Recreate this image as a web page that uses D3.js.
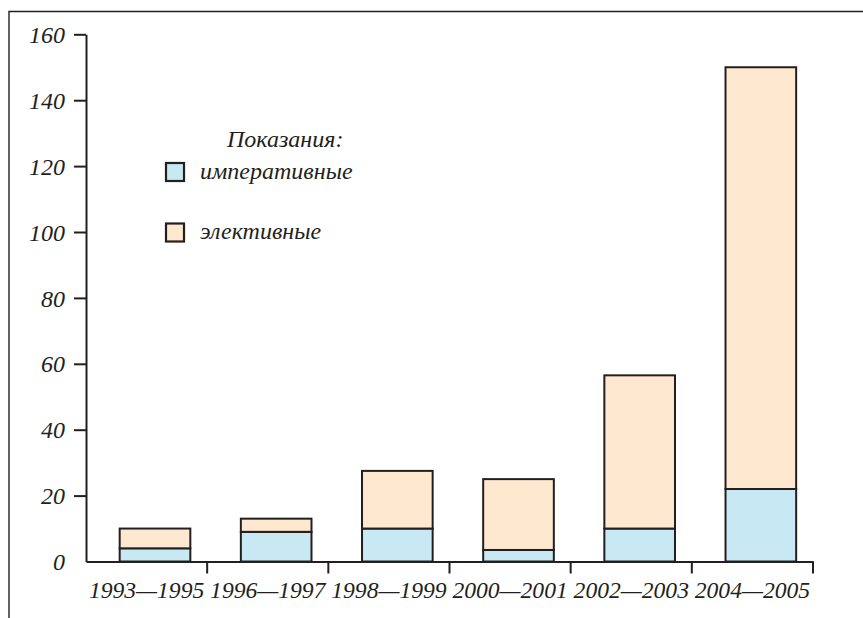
<!DOCTYPE html>
<html>
<head>
<meta charset="utf-8">
<script src="https://cdn.jsdelivr.net/npm/d3@7"></script>
<style>
  html, body { margin: 0; padding: 0; background: #ffffff; }
  svg { display: block; }
</style>
</head>
<body>
<svg id="chart" width="863" height="618"></svg>
<script>
// ---- data ----
const categories = ["1993—1995", "1996—1997", "1998—1999", "2000—2001", "2002—2003", "2004—2005"];
const imperative = [4, 9, 10, 3.5, 10, 22];
const elective   = [6, 4, 17.5, 21.5, 46.5, 128];
const yTicks = [0, 20, 40, 60, 80, 100, 120, 140, 160];
const seriesNames = ["императивные", "элективные"];
const legendTitle = "Показания:";

// ---- styles ----
const colors = ["#c8e9f3", "#fee8d0"];
const ink = "#231f20";
const FONT = "'Liberation Serif', 'Times New Roman', Times, serif";

function styleText(sel, size) {
  sel.style("font-family", FONT)
     .style("font-style", "italic")
     .style("font-size", size + "px")
     .style("fill", ink);
}

const svg = d3.select("#chart");

// frame
svg.append("path")
  .attr("d", "M9,618V11.5H863")
  .attr("fill", "none").attr("stroke", ink).attr("stroke-width", 1.4);

const x = d3.scaleBand().domain(categories).range([86, 813]).padding(0);
const y = d3.scaleLinear().domain([0, 160]).range([561.5, 34.3]);

// stacked data
const rows = categories.map((c, i) => ({ cat: c, imperative: imperative[i], elective: elective[i] }));
const stack = d3.stack().keys(["imperative", "elective"])(rows);

const bw = x.bandwidth();
const barOff = bw * 0.278, barW = bw * 0.583;

const g = svg.append("g");
stack.forEach((layer, li) => {
  g.selectAll(null).data(layer).join("rect")
    .attr("x", d => x(d.data.cat) + barOff)
    .attr("width", barW)
    .attr("y", d => y(d[1]))
    .attr("height", d => y(d[0]) - y(d[1]))
    .attr("fill", colors[li])
    .attr("stroke", ink)
    .attr("stroke-width", 2);
});

// y axis
const yAxis = svg.append("g")
  .attr("transform", "translate(86,0)")
  .call(d3.axisLeft(y).tickValues(yTicks).tickSize(12).tickSizeOuter(0).tickPadding(9).tickFormat(d3.format("d")));
yAxis.select(".domain").attr("stroke", ink).attr("stroke-width", 2);
yAxis.selectAll(".tick line").attr("stroke", ink).attr("stroke-width", 2)
  .filter(d => d === 0).remove();
styleText(yAxis.selectAll(".tick text").attr("dy", "0.34em"), 24);

// x axis
const xAxis = svg.append("g")
  .attr("transform", `translate(0,${y(0)})`)
  .call(d3.axisBottom(x).tickSize(0).tickSizeOuter(0).tickPadding(0));
xAxis.select(".domain").attr("stroke", ink).attr("stroke-width", 2);
styleText(xAxis.selectAll(".tick text").attr("y", 36).attr("dy", 0), 23.6);
// boundary ticks
xAxis.selectAll(".bound").data(categories).join("line")
  .attr("class", "bound")
  .attr("x1", d => x(d) + bw).attr("x2", d => x(d) + bw)
  .attr("y1", 0).attr("y2", 12)
  .attr("stroke", ink).attr("stroke-width", 2);

// legend
const leg = svg.append("g");
styleText(leg.append("text").attr("x", 227).attr("y", 146.5).text(legendTitle), 24);
const legY = [172, 232.5];
seriesNames.forEach((n, i) => {
  leg.append("rect")
    .attr("x", 166).attr("y", legY[i] - 9).attr("width", 18).attr("height", 18)
    .attr("fill", colors[i]).attr("stroke", ink).attr("stroke-width", 2.2);
  styleText(leg.append("text").attr("x", 200).attr("y", legY[i] + 6.5).text(n), 24);
});
</script>
</body>
</html>
